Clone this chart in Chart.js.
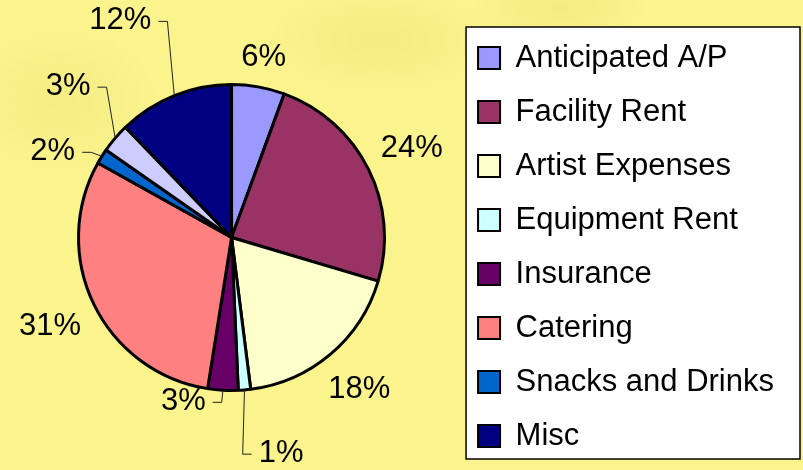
<!DOCTYPE html>
<html>
<head>
<meta charset="utf-8">
<title>Budget breakdown</title>
<script src="https://cdn.jsdelivr.net/npm/chart.js@4.4.1/dist/chart.umd.min.js"></script>
<style>
  html, body { margin: 0; padding: 0; }
  body {
    width: 803px;
    height: 470px;
    overflow: hidden;
    background-color: #fbf38b;
    background-image:
      radial-gradient(ellipse 170px 80px at 380px 40px, rgba(200, 180, 80, 0.12), rgba(200, 180, 80, 0) 70%),
      radial-gradient(ellipse 150px 110px at 60px 100px, rgba(200, 180, 80, 0.1), rgba(200, 180, 80, 0) 70%),
      radial-gradient(ellipse 130px 50px at 560px 8px, rgba(200, 180, 80, 0.12), rgba(200, 180, 80, 0) 70%);
  }
  #chart { display: block; }
</style>
</head>
<body>
<canvas id="chart" width="803" height="470"></canvas>
<script>
// slice names (the 8th one has no legend entry in the original)
var categories = ['Anticipated A/P', 'Facility Rent', 'Artist Expenses', 'Equipment Rent',
  'Insurance', 'Catering', 'Snacks and Drinks', '', 'Misc'];
// share of the budget, in percent
var shares = [5.6, 24.0, 18.4, 1.3, 3.2, 30.6, 1.6, 3.1, 12.2];

var sliceColors = ['#9999FF', '#993366', '#FFFFCC', '#CCFFFF', '#660066',
  '#FF8080', '#0066CC', '#CCCCFF', '#000080'];

// labels pulled out with a leader line: [angle from 12 o'clock, distance in radii]
var movedLabels = {
  3: [167, 1.44],
  4: [196.5, 1.11],
  6: [296, 1.30],
  7: [313, 1.46],
  8: [333, 1.60]
};

var fontFamily = '"Liberation Sans", Arial, sans-serif';

// white framed box behind the legend
var legendFrame = {
  id: 'legendFrame',
  beforeDraw: function(chart) {
    var lg = chart.legend;
    var ctx = chart.ctx;
    var x = lg.left + 11, y = lg.top + 8;
    var w = chart.width - 3 - x, h = lg.bottom - 16 - y;
    ctx.save();
    ctx.fillStyle = '#ffffff';
    ctx.fillRect(x, y, w, h);
    ctx.strokeStyle = '#000000';
    ctx.lineWidth = 1.5;
    ctx.strokeRect(x, y, w, h);
    ctx.restore();
  }
};

// move the pie up, the legend keeps its own place
var pieNudge = {
  id: 'pieNudge',
  afterLayout: function(chart) {
    chart.chartArea.top -= 7;
    chart.chartArea.bottom -= 7;
  }
};

// percentage labels round the pie
var pctLabels = {
  id: 'pctLabels',
  afterDatasetsDraw: function(chart) {
    var ctx = chart.ctx;
    var meta = chart.getDatasetMeta(0);
    var total = shares.reduce(function(a, b) { return a + b; }, 0);
    ctx.save();
    ctx.font = '31px ' + fontFamily;
    ctx.textAlign = 'center';
    ctx.textBaseline = 'middle';
    meta.data.forEach(function(arc, i) {
      var p = arc.getProps(['x', 'y', 'startAngle', 'endAngle', 'outerRadius'], true);
      var mid = (p.startAngle + p.endAngle) / 2;
      var text = Math.round(shares[i] / total * 100) + '%';
      var w = ctx.measureText(text).width;
      var h = 22;
      var cx, cy;
      var moved = movedLabels[i];
      if (moved) {
        var a = (moved[0] - 90) * Math.PI / 180;
        cx = p.x + Math.cos(a) * moved[1] * p.outerRadius;
        cy = p.y + Math.sin(a) * moved[1] * p.outerRadius;
        var ax = p.x + Math.cos(mid) * p.outerRadius;
        var ay = p.y + Math.sin(mid) * p.outerRadius;
        var dir = cx > ax ? -1 : 1;
        var x0 = cx + dir * (w / 2 + 7);
        var x1 = x0 + dir * 9;
        ctx.beginPath();
        ctx.moveTo(x0, cy + 2);
        ctx.lineTo(x1, cy + 2);
        ctx.lineTo(ax, ay);
        ctx.strokeStyle = '#222222';
        ctx.lineWidth = 1;
        ctx.stroke();
      } else {
        var r = p.outerRadius + 16;
        var s = Math.abs(Math.cos(mid)) * w / 2 + Math.abs(Math.sin(mid)) * h / 2;
        cx = p.x + Math.cos(mid) * (r + s);
        cy = p.y + Math.sin(mid) * (r + s);
      }
      ctx.fillStyle = '#000000';
      ctx.fillText(text, cx, cy + 1);
    });
    ctx.restore();
  }
};

var ctx = document.getElementById('chart').getContext('2d');
new Chart(ctx, {
  type: 'pie',
  data: {
    labels: categories,
    datasets: [{
      data: shares,
      backgroundColor: sliceColors,
      borderColor: '#000000',
      borderWidth: 3
    }]
  },
  options: {
    responsive: false,
    animation: false,
    radius: 153,
    layout: { padding: { left: 8, right: 19, top: 19, bottom: -5 } },
    plugins: {
      tooltip: { enabled: false },
      legend: {
        position: 'right',
        align: 'center',
        labels: {
          color: '#000000',
          font: { size: 31, family: fontFamily },
          boxWidth: 22,
          boxHeight: 22,
          padding: 23,
          filter: function(item) { return item.text !== ''; },
          generateLabels: function(chart) {
            var items = Chart.overrides.pie.plugins.legend.labels.generateLabels(chart);
            items.forEach(function(it) { it.lineWidth = 2; });
            return items;
          }
        }
      }
    }
  },
  plugins: [legendFrame, pieNudge, pctLabels]
});
</script>
</body>
</html>
